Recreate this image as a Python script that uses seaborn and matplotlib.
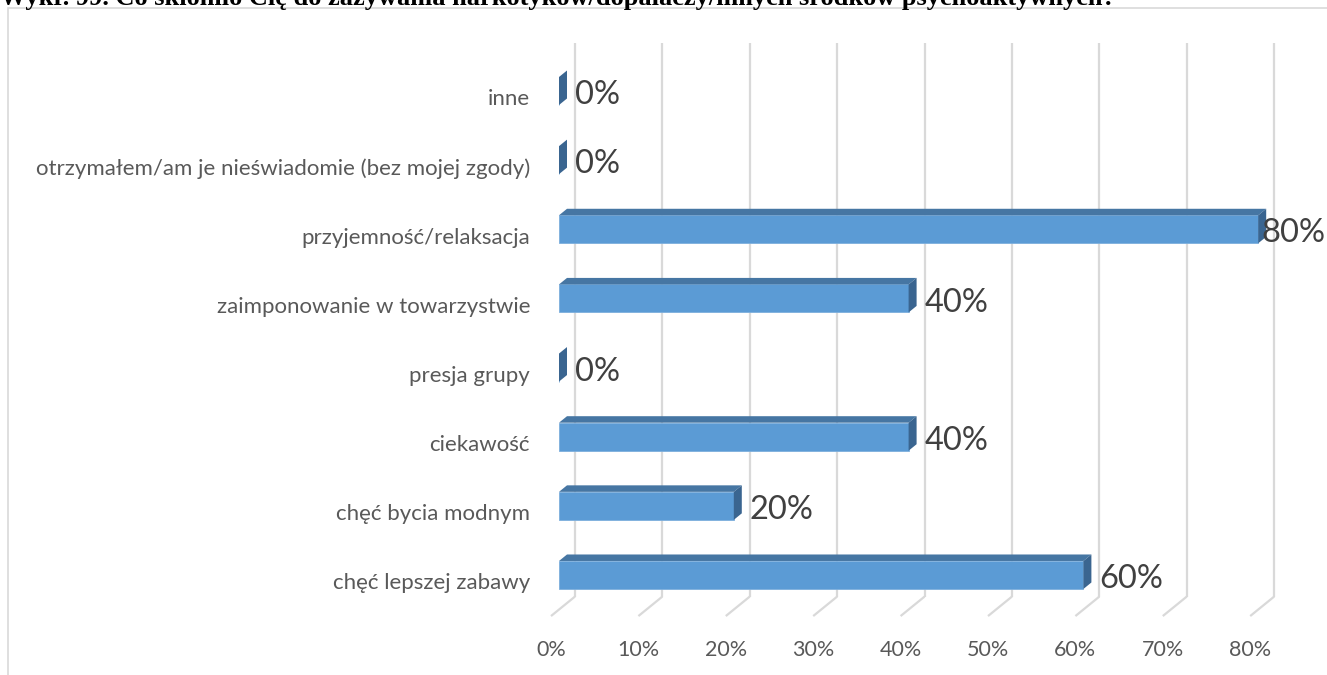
import matplotlib
matplotlib.use('Agg')
import numpy as np
import pandas as pd
import matplotlib.pyplot as plt
import seaborn as sns
from matplotlib.patches import Polygon, Rectangle

# data, listed top to bottom as in the chart
categories = [
    'inne',
    'otrzymałem/am je nieświadomie (bez mojej zgody)',
    'przyjemność/relaksacja',
    'zaimponowanie w towarzystwie',
    'presja grupy',
    'ciekawość',
    'chęć bycia modnym',
    'chęć lepszej zabawy',
]
values = [0, 0, 80, 40, 0, 40, 20, 60]
x_ticks = [0, 10, 20, 30, 40, 50, 60, 70, 80]
title = 'Wykr. 99. Co skłoniło Cię do zażywania narkotyków/dopalaczy/innych środków psychoaktywnych?'

# layout (pixels of the 1327x675 picture)
W, H = 1327, 675
X0, SX = 559, 8.74      # 0% at the bar front plane, px per percent
Y0, SY = 91, 69.14      # centre of the first category, px per category
DX = 8 / SX             # one third of the 3d depth, in percent
DY = 6.5 / SY           # one third of the 3d depth, in category units
BAR_H = 28 / SY
XLIM = (-2.6, 86)
YLIM = (7.62, -0.72)

FRONT = '#5B9BD5'
TOP = '#4676A3'
SIDE = '#3A6590'
GRID = '#D9D9D9'

sns.set_style('white')
plt.rcParams['font.family'] = ['Lato', 'DejaVu Sans']

df = pd.DataFrame({'kategoria': categories, 'wartosc': values})

fig = plt.figure(figsize=(W / 100, H / 100), dpi=100)
ax = fig.add_axes([
    (X0 + SX * XLIM[0]) / W,
    1 - (Y0 + SY * YLIM[0]) / H,
    SX * (XLIM[1] - XLIM[0]) / W,
    SY * (YLIM[0] - YLIM[1]) / H,
])

sns.barplot(data=df, x='wartosc', y='kategoria', orient='h', order=categories,
            color=FRONT, saturation=1, width=BAR_H, ax=ax, zorder=3,
            edgecolor='#7DAFDD', linewidth=0.6)
ax.set_xlim(*XLIM)
ax.set_ylim(*YLIM)

n = len(categories)
floor = n - 0.5
ceil = -0.5

# back wall gridlines and floor lines
for t in x_ticks:
    ax.plot([t + 2 * DX, t + 2 * DX], [floor - 2 * DY, ceil - 2 * DY],
            color=GRID, lw=1.6, zorder=1, solid_capstyle='butt')
    ax.plot([t + 2 * DX, t - DX], [floor - 2 * DY, floor + DY],
            color=GRID, lw=1.6, zorder=1, solid_capstyle='butt')

# top and side faces of the bars
for i, v in enumerate(values):
    top = i - BAR_H / 2
    bot = i + BAR_H / 2
    if v > 0:
        ax.add_patch(Polygon([(0, top), (v, top), (v + DX, top - DY), (DX, top - DY)],
                             closed=True, fc=TOP, ec='none', zorder=3))
    ax.add_patch(Polygon([(v, bot), (v, top), (v + DX, top - DY), (v + DX, bot - DY)],
                         closed=True, fc=SIDE, ec='none', zorder=3))

# value labels
labels = []
for i, v in enumerate(values):
    t = ax.text(v + 2 * DX, i + 0.19, f'{v}%', ha='left', va='baseline',
                fontsize=23.5, color='#404040', zorder=4, clip_on=False)
    labels.append((t, v + 2 * DX, i + 0.19))

ax.set_xticks([t - DX for t in x_ticks])
ax.set_xticklabels([f'{t}%' for t in x_ticks])
ax.set_yticks([i + DY for i in range(n)])
ax.set_yticklabels(categories)
ax.tick_params(axis='x', length=0, pad=16, labelsize=15.5, labelcolor='#595959')
ax.tick_params(axis='y', length=0, pad=4.5, labelsize=16, labelcolor='#595959')
ax.set_xlabel('')
ax.set_ylabel('')
for s in ax.spines.values():
    s.set_visible(False)
ax.grid(False)

# keep value labels inside the picture, like Excel does
fig.canvas.draw()
for t, x, y in labels:
    bb = t.get_window_extent()
    over = bb.x1 - (W - 2)
    if over > 0:
        t.set_position((x - over / SX, y))

# the caption sits above the chart frame and is cut by the picture's top edge
fig.text(0.0, 1 - 5 / H, title, family='Liberation Serif', weight='bold',
         fontsize=19, ha='left', va='baseline', color='black')

fig.patches.append(Rectangle((8 / W, -0.1), 1.2, 1 - 8 / H + 0.1, transform=fig.transFigure,
                             fill=False, ec=GRID, lw=1.2, zorder=0))

fig.savefig('out.png', dpi=100)
